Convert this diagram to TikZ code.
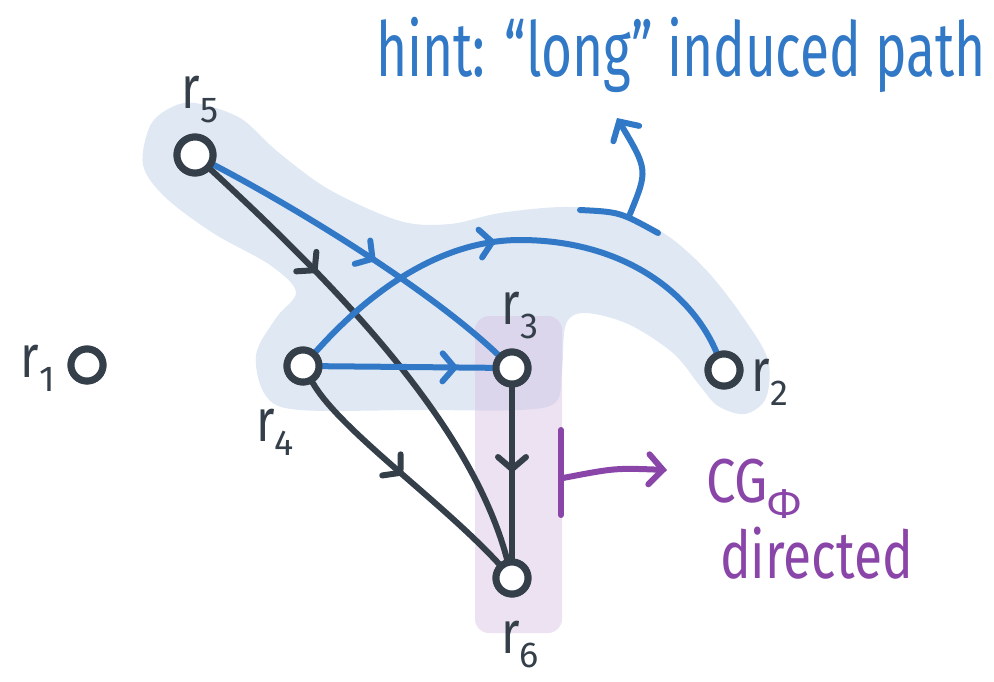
\documentclass[tikz,border=0pt]{standalone}
\usepackage{fontspec}
\setmainfont{Fira Sans}
\usetikzlibrary{arrows.meta,decorations.markings}
\definecolor{ink}{HTML}{343F4A}
\definecolor{hblue}{HTML}{3178C6}
\definecolor{hpurple}{HTML}{8A45A8}
\definecolor{blobblue}{HTML}{DFE8F3}
\definecolor{blobpurple}{HTML}{D9C5E6}
\tikzset{
  vtx/.style={circle,draw=ink,fill=white,line width=7pt,minimum size=32pt,inner sep=0pt},
  bigvtx/.style={vtx,minimum size=36pt},
  lab/.style={text=ink,font=\fontsize{60}{66}\selectfont,inner sep=0pt},
  darkedge/.style={draw=ink,line width=6pt,line cap=round},
  blueedge/.style={draw=hblue,line width=6pt,line cap=round},
  midarrow/.style={postaction={decorate,decoration={markings,mark=at position #1 with {\arrow{Straight Barb[length=12pt,width=28pt,line width=6pt,line cap=round]}}}}},
}
\newcommand{\lbl}[1]{\scalebox{0.8}[1]{r}\raisebox{-14pt}{\fontsize{36}{40}\selectfont #1}}
\begin{document}
\begin{tikzpicture}[x=1pt,y=-1pt]
\useasboundingbox (0,0) rectangle (994,681);
% blue highlight
\fill[blobblue] plot[smooth cycle,tension=0.55] coordinates {
  (195,103) (240,118) (278,152) (330,190) (400,221) (450,224) (500,213)
  (563,207) (615,212) (665,234) (708,272) (745,320) (768,360) (766,398)
  (745,414) (718,406) (700,386) (673,353) (628,324) (585,313) (566,324)
  (562,370) (556,402) (520,410) (420,410) (300,410) (266,396) (256,355)
  (276,318) (296,292) (270,265) (213,233) (165,197) (143,165) (150,126) (170,108)};
% purple highlight
\fill[blobpurple,opacity=0.5,rounded corners=14pt] (475,316) rectangle (562,633);
% nodes
\node[bigvtx] (r5) at (195,155) {};
\node[vtx] (r1) at (87,365) {};
\node[vtx] (r4) at (303,366) {};
\node[vtx] (r3) at (512,368) {};
\node[vtx] (r2) at (724,370) {};
\node[vtx] (r6) at (512,578) {};
% labels
\node[lab] (l5) at (200,100) {\lbl{5}};
\node[lab] (l1) at (38,368) {\lbl{1}};
\node[lab] (l4) at (275,432) {\lbl{4}};
\node[lab] (l3) at (520,316) {\lbl{3}};
\node[lab] (l2) at (770,382) {\lbl{2}};
\node[lab] (l6) at (520,645) {\lbl{6}};
% dark edges
\draw[darkedge,midarrow=0.3] (r5) .. controls (330,280) and (470,420) .. (r6);
\draw[darkedge,midarrow=0.5] (r4) .. controls (340,430) and (440,500) .. (r6);
\draw[darkedge,midarrow=0.5] (r3) -- (r6);
% blue edges
\draw[blueedge,midarrow=0.55] (r5) .. controls (300,210) and (430,290) .. (r3);
\draw[blueedge,midarrow=0.8] (r4) -- (r3);
\draw[blueedge,midarrow=0.45] (r4) .. controls (380,280) and (450,240) .. (520,240)
  .. controls (620,240) and (690,290) .. (r2);
% redraw nodes on top
\foreach \n in {r1,r2,r3,r4,r6}{\node[vtx] at (\n) {};}
\node[bigvtx] at (r5) {};
% blue annotation
\coordinate (tA) at (580,210);
\coordinate (tB) at (658,233);
\coordinate (sA) at (630,214);
\coordinate (sB) at (617,118);
\draw[blueedge] (tA) .. controls (620,212) .. (tB);
\draw[blueedge,-{Straight Barb[length=14pt,width=30pt,line width=6pt,line cap=round]}] (sA) .. controls (648,170) .. (sB);
\node[text=hblue,font=\fontsize{76}{80}\selectfont,anchor=base west,inner sep=0pt] (hint) at (376,76) {\scalebox{0.7}[1]{hint: “long” induced path}};
% purple annotation
\coordinate (pA) at (561,430);
\coordinate (pB) at (561,515);
\coordinate (pC) at (563,478);
\coordinate (pD) at (667,470);
\draw[draw=hpurple,line width=6pt,line cap=round] (pA) -- (pB);
\draw[draw=hpurple,line width=6pt,line cap=round,-{Straight Barb[length=14pt,width=30pt,line width=6pt,line cap=round]}] (pC) .. controls (615,468) .. (pD);
\node[text=hpurple,font=\fontsize{62}{66}\selectfont,anchor=base west,inner sep=0pt] (cg) at (706,502) {\scalebox{0.85}[1]{CG}\raisebox{-16pt}{\fontsize{42}{46}\selectfont Φ}};
\node[text=hpurple,font=\fontsize{66}{70}\selectfont,anchor=base west,inner sep=0pt] (dir) at (720,578) {\scalebox{0.78}[1]{directed}};
\end{tikzpicture}
\end{document}
